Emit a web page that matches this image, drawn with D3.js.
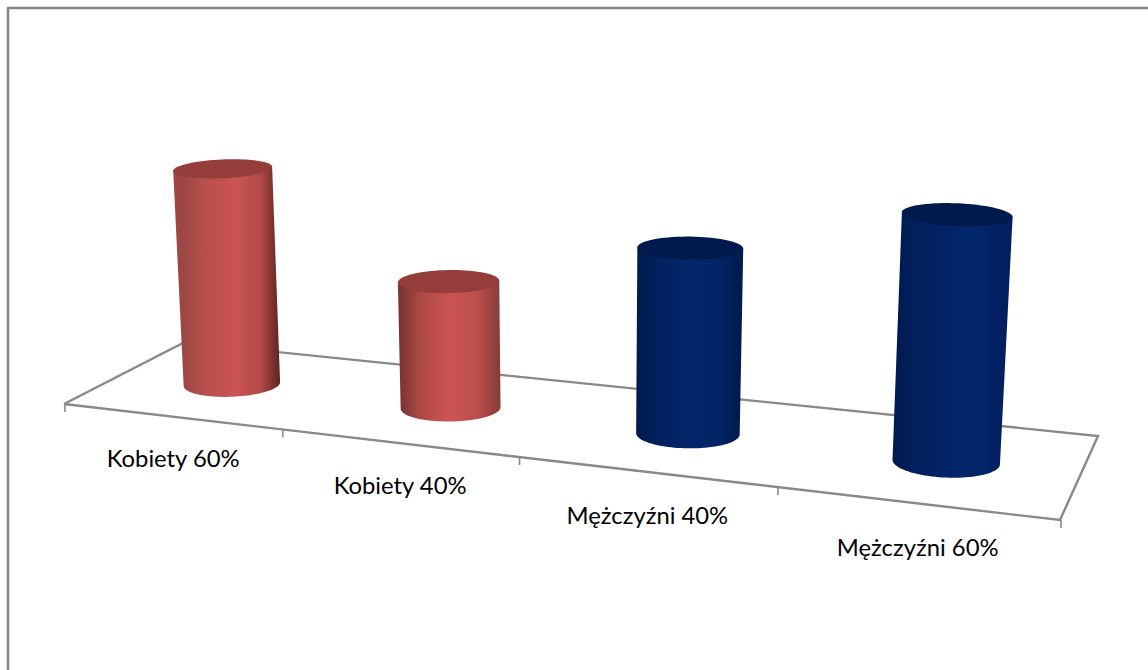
<!DOCTYPE html>
<html>
<head>
<meta charset="utf-8">
<script src="https://cdn.jsdelivr.net/npm/d3@7"></script>
<style>
  html, body { margin: 0; padding: 0; background: #fff; }
  svg { display: block; }
  text { font-family: Lato, "Open Sans", sans-serif; fill: #000; }
</style>
</head>
<body>
<svg id="chart" width="1148" height="670"></svg>
<script>
// Chart content
const categories = ["Kobiety 60%", "Kobiety 40%", "Mężczyźni 40%", "Mężczyźni 60%"];
const values = [48.5, 27.5, 39, 50];
const seriesOf = ["f", "f", "m", "m"];

// Cylinder tones per series
const capTones = { f: "#943d3a", m: "#001a4e" };
const midTones = { f: "#cb5451", m: "#03266b" };

// Per-cylinder lighting: highlight position and the two edge tones
const peakOffsets = [0.54, 0.48, 0.55, 0.68];
const leftEdges = ["#9c4744", "#7a3533", "#001a4c", "#011a4f"];
const rightEdges = ["#5c2321", "#853b39", "#011a50", "#021f60"];

const W = 1148, H = 670;
const svg = d3.select("#chart").attr("viewBox", [0, 0, W, H]);
const defs = svg.append("defs");

// Floor corners of the 3D plot: front-left, front-right, back-right, back-left
const floor = [[64, 404], [1060, 520], [1098, 436], [184, 342.5]];

// Map the unit square onto the floor quadrilateral (projective transform)
function makeHomography([p0, p1, p2, p3]) {
  const dx1 = p1[0] - p2[0], dx2 = p3[0] - p2[0], sx = p0[0] - p1[0] + p2[0] - p3[0];
  const dy1 = p1[1] - p2[1], dy2 = p3[1] - p2[1], sy = p0[1] - p1[1] + p2[1] - p3[1];
  const den = dx1 * dy2 - dx2 * dy1;
  const g = (sx * dy2 - dx2 * sy) / den;
  const h = (dx1 * sy - sx * dy1) / den;
  const a = p1[0] - p0[0] + g * p1[0], b = p3[0] - p0[0] + h * p3[0], c = p0[0];
  const d = p1[1] - p0[1] + g * p1[1], e = p3[1] - p0[1] + h * p3[1], f = p0[1];
  return (u, v) => {
    const w = g * u + h * v + 1;
    return [(a * u + b * v + c) / w, (d * u + e * v + f) / w];
  };
}
const project = makeHomography(floor);

// Category axis runs along the floor, in unit coordinates
const xBand = d3.scaleBand().domain(categories).range([0, 1]);
const centerU = c => xBand(c) + xBand.bandwidth() / 2;
const BAR_DEPTH = 0.49, BAR_NUDGE = 0.004;

// Apparent size grows toward the right of the view
const baseWidth = d3.scaleLinear().domain([233, 945]).range([96.5, 107.5]);
// Values are measured in multiples of the cylinder's apparent width
const yValue = d3.scaleLinear().domain([0, 50]).range([0, 2.3]);
// Ellipses open up lower in the view
const ellipseRatio = d3.scaleLinear().domain([170, 462]).range([0.19, 0.29]);
// Vertical edges converge to this point far below the plot
const vanish = [583, 8600];
// Labels drop slightly further from the edge toward the right
const labelDrop = d3.scaleLinear().domain([0, 1]).range([50.5, 53]);

// Floor outline and axis ticks
const axisColor = "#898989";
const grid = svg.append("g").attr("fill", "none").attr("stroke", axisColor).attr("stroke-width", 2.4);
grid.append("path")
  .attr("d", d3.line()([floor[0], floor[1], floor[2], floor[3], floor[0]]))
  .attr("stroke-linejoin", "miter");

const tickU = categories.map(c => xBand(c)).concat(1);
grid.selectAll("line.tick")
  .data(tickU)
  .join("line")
  .attr("class", "tick")
  .attr("stroke-width", 1.6)
  .attr("x1", u => project(u, 0)[0] + 1)
  .attr("x2", u => project(u, 0)[0] + 1)
  .attr("y1", u => project(u, 0)[1])
  .attr("y2", u => project(u, 0)[1] + 8);

// Outer chart frame: only the top and left sides are visible
svg.append("path")
  .attr("d", d3.line()([[8, H], [8, 8], [W, 8]]))
  .attr("fill", "none")
  .attr("stroke", "#868686")
  .attr("stroke-width", 2.5);

// Points of a tilted half or full ellipse
function ellipsePoints(cx, cy, rx, ry, slope, t0, t1, n = 48) {
  const len = Math.hypot(1, slope), ux = 1 / len, uy = slope / len;
  return d3.range(n + 1).map(i => {
    const t = t0 + (t1 - t0) * i / n;
    const a = rx * Math.cos(t), b = ry * Math.sin(t);
    return [cx + a * ux - b * uy, cy + a * uy + b * ux];
  });
}

const line = d3.line();
const bars = categories.map((c, i) => {
  const [bx, by] = project(centerU(c) + BAR_NUDGE, BAR_DEPTH);
  const w = baseWidth(bx);
  const h = yValue(values[i]) * w;
  const t = h / (vanish[1] - by);
  const tx = bx + (bx - vanish[0]) * t, ty = by - h;
  return { i, bx, by, tx, ty, rb: w / 2, rt: w * (1 + t) / 2, series: seriesOf[i] };
});

const g = svg.append("g");
bars.forEach(d => {
  const id = "shade" + d.i;
  const mid = midTones[d.series], peak = peakOffsets[d.i];
  const left = leftEdges[d.i], right = rightEdges[d.i];
  const grad = defs.append("linearGradient").attr("id", id)
    .attr("gradientUnits", "userSpaceOnUse")
    .attr("x1", d.bx - d.rb).attr("x2", d.bx + d.rb)
    .attr("y1", 0).attr("y2", 0);
  [[0, left],
   [peak * 0.4, d3.interpolateRgb(left, mid)(0.6)],
   [peak, mid],
   [peak + (1 - peak) * 0.55, d3.interpolateRgb(mid, right)(0.2)],
   [1, right]]
    .forEach(([o, col]) => grad.append("stop").attr("offset", o).attr("stop-color", col));

  const slope = (d.tx - d.bx) / (d.by - d.ty);
  const rBase = d.rb * ellipseRatio(d.by), rTop = d.rt * ellipseRatio(d.ty);
  const baseArc = ellipsePoints(d.bx, d.by, d.rb, rBase, slope, 0, Math.PI);
  const k = d.rt / Math.hypot(1, slope);
  const topRight = [d.tx + k, d.ty + k * slope];
  const topLeft = [d.tx - k, d.ty - k * slope];

  g.append("path")
    .attr("d", line([topRight, ...baseArc, topLeft]) + "Z")
    .attr("fill", `url(#${id})`);
  g.append("path")
    .attr("d", line(ellipsePoints(d.tx, d.ty, d.rt, rTop, slope, 0, 2 * Math.PI, 72)) + "Z")
    .attr("fill", capTones[d.series]);
});

// Category labels sit below the front edge of the floor
svg.append("g").selectAll("text")
  .data(categories)
  .join("text")
  .attr("x", c => project(centerU(c), 0)[0] + 2.5)
  .attr("y", c => project(centerU(c), 0)[1] + labelDrop(centerU(c)))
  .attr("text-anchor", "middle")
  .attr("font-size", 23.8)
  .text(c => c);
</script>
</body>
</html>
